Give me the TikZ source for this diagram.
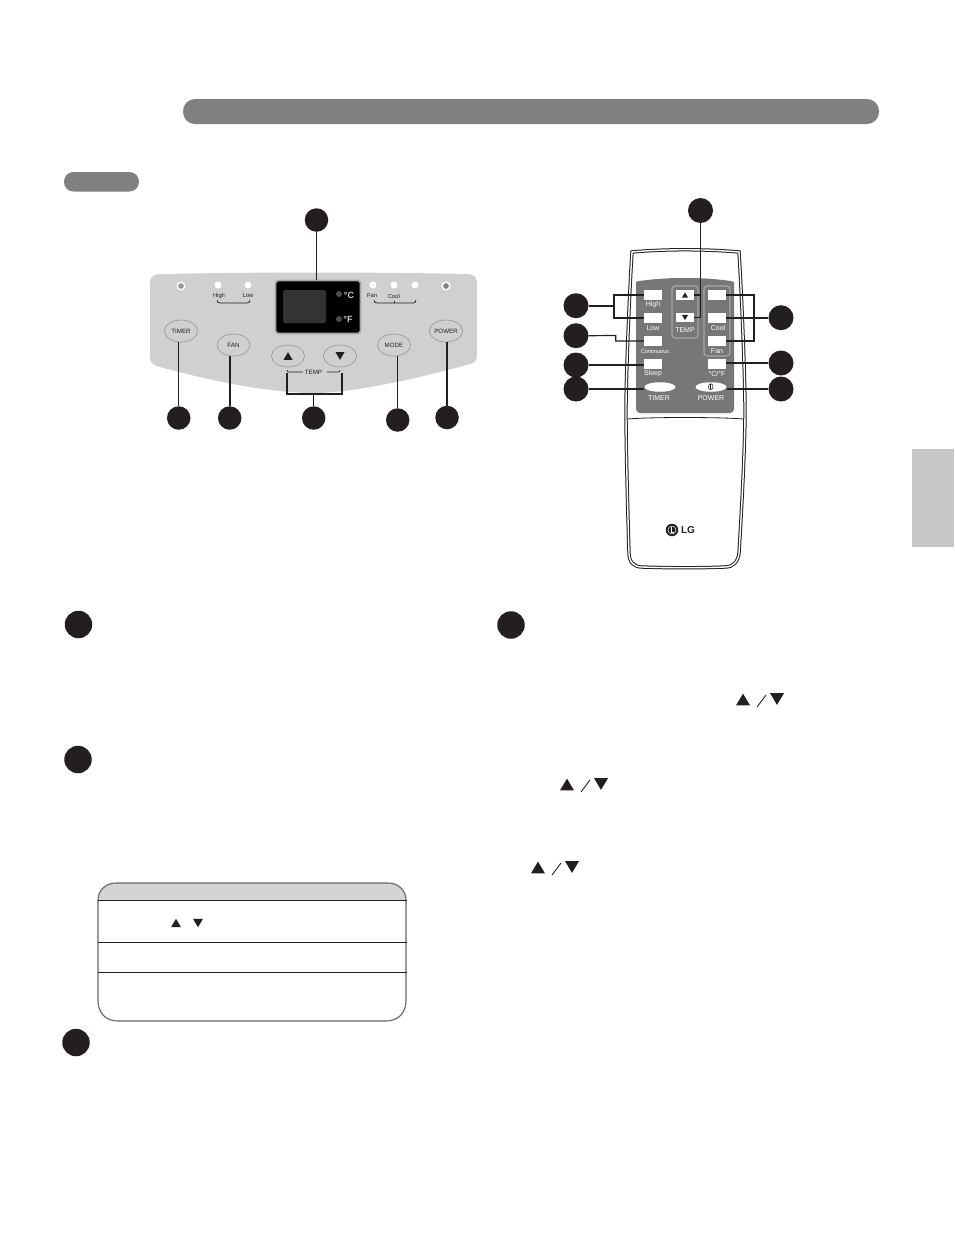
\documentclass[tikz,border=0pt]{standalone}
\usepackage{fontspec}
\setmainfont{Liberation Sans}
\usetikzlibrary{shapes.geometric}
\definecolor{ink}{HTML}{231F20}
\definecolor{barg}{HTML}{7F8181}
\definecolor{panelg}{HTML}{CFD0CF}
\definecolor{remg}{HTML}{777777}
\definecolor{tabg}{HTML}{C5C7C5}
\definecolor{headg}{HTML}{D3D4D3}
\newcommand\triUp[3]{\fill[ink] (#1-#3/2,#2+#3*0.42) -- (#1+#3/2,#2+#3*0.42) -- (#1,#2-#3*0.42) -- cycle;}
\newcommand\triDn[3]{\fill[ink] (#1-#3/2,#2-#3*0.42) -- (#1+#3/2,#2-#3*0.42) -- (#1,#2+#3*0.42) -- cycle;}
\newcommand\tsize[1]{\fontsize{#1}{#1}\selectfont}
\tikzset{
  x=1pt,y=-1pt,
  num/.style={circle,fill=ink,inner sep=0,minimum size=23.5pt},
  bignum/.style={circle,fill=ink,inner sep=0,minimum size=27.5pt},
  panelbtn/.style={ellipse,draw=gray!85,line width=.6pt,fill=panelg,inner sep=0,minimum width=33pt,minimum height=22pt,text=ink,font=\tsize{6.2}},
  led/.style={circle,fill=white,inner sep=0,minimum size=7pt},
  ring/.style={circle,draw=white,fill=gray!80,line width=1.4pt,inner sep=0,minimum size=7.5pt},
  small/.style={inner sep=0,text=ink,font=\tsize{5.8}},
  rembtn/.style={rectangle,fill=white,inner sep=0,minimum width=18pt,minimum height=10pt},
  remlab/.style={inner sep=0,text=white,font=\tsize{7}},
  removal/.style={ellipse,fill=white,inner sep=0,minimum width=31pt,minimum height=9.5pt},
  conn/.style={draw=ink,line width=1.7pt},
  connthin/.style={draw=ink,line width=1.2pt},
  seam/.style={draw=ink,line width=.8pt},
}
\begin{document}
\begin{tikzpicture}
\useasboundingbox (0,0) rectangle (954,1235);
\fill[white] (0,0) rectangle (954,1235);
% header and side tab
\fill[barg,rounded corners=12pt] (183,99) rectangle (879,124);
\fill[barg,rounded corners=9.5pt] (64,172) rectangle (139,191.5);
\fill[tabg] (912,449) rectangle (954,547);

% control panel
\fill[panelg] (150,284) .. controls (150,276) and (154,274) .. (162,274)
  .. controls (260,272) and (370,272) .. (466,274)
  .. controls (474,274) and (477,277) .. (477,284) -- (477,355)
  .. controls (477,361) and (474,363) .. (470,364)
  .. controls (390,386) and (340,393) .. (314,393)
  .. controls (280,393) and (230,386) .. (160,367)
  .. controls (152,365) and (150,362) .. (150,356) -- cycle;
\node[ring] (ledA) at (181,286) {};
\node[ring,fill=gray] (ledB) at (446,286) {};
\node[led] at (218,285) {};
\node[led] at (248,285) {};
\node[led] at (373,285) {};
\node[led] at (394,285) {};
\node[led] at (415,285) {};
\node[small] at (219,296) {High};
\node[small] at (248,296) {Low};
\node[small] at (372,296) {Fan};
\node[small] at (394,296) {Cool};
\draw[ink,line width=.7pt] (217,300) .. controls (217,302) and (218,303) .. (220,303) -- (247,303) .. controls (249,303) and (250,302) .. (250,300);
\draw[ink,line width=.7pt] (374,300) .. controls (374,302) and (375,303) .. (377,303) -- (413,303) .. controls (415,303) and (416,302) .. (416,300);
\draw[ink,line width=.7pt] (394,301) -- (394,303);
% display
\node[rectangle,rounded corners=3pt,fill=black,draw=gray!70,line width=1.6pt,minimum width=85pt,minimum height=53pt,inner sep=0] (disp) at (318,307) {};
\fill[black!80,rounded corners=2pt] (283,290) rectangle (326,323);
\fill[black!70] (339,294) circle (3pt);
\fill[black!70] (339,319) circle (3pt);
\node[inner sep=0,text=white!80!black,font=\bfseries\tsize{9}] at (349,295) {°C};
\node[inner sep=0,text=white!80!black,font=\bfseries\tsize{9}] at (348,319) {°F};
% panel buttons
\node[panelbtn] (bTimer) at (181,331) {TIMER};
\node[panelbtn] (bFan) at (233.5,345) {FAN};
\node[panelbtn] (bUp) at (288,356) {};
\node[panelbtn] (bDown) at (340,356) {};
\node[panelbtn] (bMode) at (394,345) {MODE};
\node[panelbtn] (bPower) at (446,331) {POWER};
\triUp{288}{356}{9}
\triDn{340}{356}{9}
\node[small,font=\tsize{6.2}] at (313.5,372) {TEMP};
\draw[ink,line width=.7pt] (287,370) .. controls (287,371.5) and (288,372) .. (289,372) -- (303,372);
\draw[ink,line width=.7pt] (327,372) -- (338,372) .. controls (339.5,372) and (340,371.5) .. (340,370);
% panel callouts
\node[num] (nDisp) at (316.5,220) {};
\node[num] (nTimer) at (178.7,418) {};
\node[num] (nFan) at (229.7,418) {};
\node[num] (nTemp) at (313.7,418) {};
\node[num] (nMode) at (397.7,420) {};
\node[num] (nPower) at (447,417.5) {};
\draw[conn] (nDisp.south) -- (disp.north -| nDisp.south);
\draw[connthin] (nTimer.north) -- (nTimer.north |- bTimer.south);
\draw[conn] (nFan.north) -- (nFan.north |- bFan.south);
\draw[connthin] (nMode.north) -- (nMode.north |- bMode.south);
\draw[connthin] (nPower.north) -- (nPower.north |- bPower.south);
\coordinate (tempL) at (287,373);
\coordinate (tempR) at (342,373);
\coordinate (tempM) at (313.7,394);
\draw[connthin] (tempL) |- (tempM) -| (tempR);
\draw[connthin] (tempM) -- (nTemp.north);

% remote body
\draw[fill=white,draw=ink,line width=1pt,double=white,double distance=1.4pt]
  (632,252) .. controls (665,249) and (705,249) .. (739,252)
  .. controls (742,300) and (745,380) .. (745,410)
  .. controls (745,450) and (741,520) .. (739,553)
  .. controls (738,562) and (733,567) .. (725,567)
  .. controls (700,568) and (670,568) .. (642,567)
  .. controls (634,567) and (629,562) .. (629,553)
  .. controls (628,520) and (626,450) .. (626,410)
  .. controls (626,380) and (629,300) .. (632,252) -- cycle;
\draw[seam] (627.5,419) .. controls (650,417) and (720,417) .. (743.5,419);
\fill[remg,rounded corners=4pt] (636,413) -- (636,286) .. controls (636,281) and (660,278) .. (685,278) .. controls (710,278) and (734,281) .. (734,286) -- (734,413) -- cycle;
\draw[white!65!black,line width=1.2pt,rounded corners=3pt] (672,286) rectangle (698,338);
\draw[white!65!black,line width=1.2pt,rounded corners=3pt] (704,286) rectangle (730,356);
\node[rembtn] (rHigh) at (653,295) {};
\node[rembtn] (rLow) at (653,318) {};
\node[rembtn] (rCont) at (653,341) {};
\node[rembtn] (rSleep) at (653,364) {};
\node[rembtn] (rTop) at (717,295) {};
\node[rembtn] (rCool) at (717,318) {};
\node[rembtn] (rFan) at (717,341) {};
\node[rembtn] (rCF) at (717,364) {};
\node[rembtn] (rUp) at (685,295) {};
\node[rembtn,minimum height=9pt] (rDown) at (685,317.5) {};
\triUp{685}{295}{6}
\triDn{685}{317.5}{6}
\node[removal] (rTimer) at (660,387) {};
\node[removal] (rPower) at (711,387) {};
\draw[ink,line width=.5pt] (710.7,386.7) ellipse (2.3pt and 3pt);
\draw[ink,line width=.5pt] (710.7,384) -- (710.7,389.5);
\node[remlab] at (653,305) {High};
\node[remlab] at (653,328) {Low};
\node[remlab,font=\tsize{5.6}] at (655,351) {Continuous};
\node[remlab] at (653,374) {Sleep};
\node[remlab] at (685,330.5) {TEMP};
\node[remlab] at (718,327.5) {Cool};
\node[remlab] at (717,351) {Fan};
\node[remlab] at (717,374) {°C/°F};
\node[remlab,font=\tsize{7}] at (659,398) {TIMER};
\node[remlab,font=\tsize{7}] at (711,398) {POWER};
% LG logo
\node[circle,fill=ink,inner sep=0,minimum size=12.5pt] (logo) at (672,530) {};
\draw[white,line width=.5pt] (672,530) circle (4pt);
\draw[white,line width=.6pt] (671,526.5) -- (671,532) -- (674,532);
\node[inner sep=0,text=ink,font=\bfseries\tsize{10}] at (688,530) {LG};
% remote callouts
\node[num,minimum size=25pt] (mTop) at (700.5,210.5) {};
\node[num,minimum size=25pt] (mA) at (576,305.7) {};
\node[num,minimum size=25pt] (mB) at (576,335.7) {};
\node[num,minimum size=25pt] (mC) at (576,365) {};
\node[num,minimum size=25pt] (mD) at (576,389) {};
\node[num,minimum size=25pt] (mE) at (781,317.7) {};
\node[num,minimum size=25pt] (mF) at (781,363) {};
\node[num,minimum size=25pt] (mG) at (781,389) {};
\draw[connthin] (mTop.south) -- (700.5,317.9);
\draw[connthin] (rUp.east) -- (700.5,295);
\draw[connthin] (rDown.east) -- (700.5,317.5);
\coordinate (jA) at (614,305.7);
\draw[conn] (mA.east) -- (jA);
\draw[conn] (rHigh.west) -- (jA |- rHigh.west) -- (jA |- rLow.west) -- (rLow.west);
\coordinate (jB) at (615.7,335.5);
\draw[connthin] (mB.east) -- (jB) |- (rCont.west);
\draw[conn] (mC.east) -- (rSleep.west |- mC.east);
\draw[connthin] (mD.east) -- (rTimer.west |- mD.east);
\coordinate (jE) at (754,317.7);
\draw[conn] (rTop.east) -- (jE |- rTop.east) -- (jE |- rFan.east) -- (rFan.east);
\draw[conn] (mE.west) -- (rCool.east |- mE.west);
\draw[connthin] (mF.west) -- (rCF.east |- mF.west);
\draw[connthin] (mG.west) -- (rPower.east |- mG.west);

% section bullets
\node[bignum] (p1) at (78.5,624.5) {};
\node[bignum] (p2) at (511,625) {};
\node[bignum] (p3) at (78,759.5) {};
\node[bignum] (p4) at (76,1042.5) {};

% table
\fill[headg] (98,900) .. controls (98,890) and (106,883) .. (116,883) -- (388,883) .. controls (398,883) and (406,890) .. (406,900) -- cycle;
\draw[black!60,line width=1.1pt] (98,900) .. controls (98,890) and (106,883) .. (116,883) -- (388,883) .. controls (398,883) and (406,890) .. (406,900)
  -- (406,1001) .. controls (406,1013) and (398,1021) .. (386,1021) -- (118,1021) .. controls (106,1021) and (98,1013) .. (98,1001) -- cycle;
\draw[ink,line width=.8pt] (98,900.3) -- (407,900.3);
\draw[ink,line width=.8pt] (98,942.3) -- (407,942.3);
\draw[ink,line width=.8pt] (98,972.3) -- (407,972.3);
\triUp{176}{923}{10}
\triDn{198}{923}{10}

% inline arrows
\triUp{743}{699.5}{14}
\draw[ink,line width=.9pt] (757,707) -- (766,695);
\triDn{777}{699}{14}
\triUp{567}{784.5}{14}
\draw[ink,line width=.9pt] (581,792) -- (590,780);
\triDn{601}{784}{14}
\triUp{538}{867.5}{14}
\draw[ink,line width=.9pt] (552,875) -- (561,863);
\triDn{572}{867}{14}
\end{tikzpicture}
\end{document}
